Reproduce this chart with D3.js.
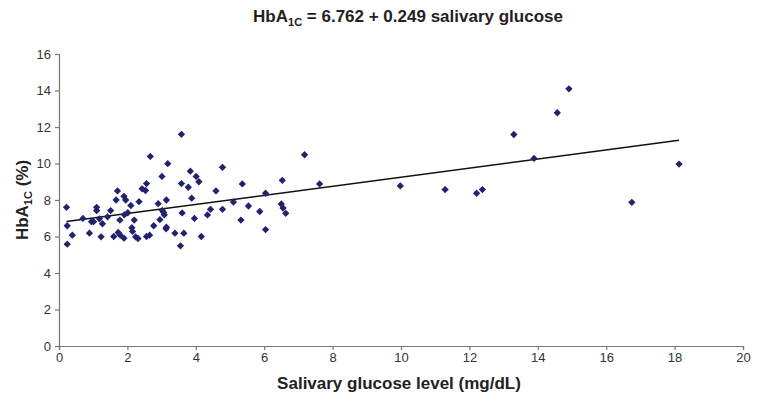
<!DOCTYPE html>
<html>
<head>
<meta charset="utf-8">
<script src="https://cdn.jsdelivr.net/npm/d3@7"></script>
<style>
  body { margin: 0; background: #fff; }
  svg { display: block; }
  text { font-family: "Liberation Sans Narrow", "Arial Narrow", "Liberation Sans", Arial, sans-serif; }
</style>
</head>
<body>
<div id="chart"></div>
<script>
// salivary glucose (mg/dL) vs HbA1c (%)
const glucose = [
  0.22, 0.24, 0.24, 0.39, 0.70, 0.89, 0.95, 1.01, 1.10, 1.10,
  1.18, 1.23, 1.27, 1.42, 1.51, 1.60, 1.67, 1.71, 1.73, 1.78,
  1.79, 1.90, 1.90, 1.95, 1.91, 2.01, 2.10, 2.13, 2.15, 2.20,
  2.24, 2.31, 2.34, 2.43, 2.53, 2.56, 2.56, 2.65, 2.67, 2.77,
  2.90, 2.95, 3.01, 3.02, 3.06, 3.08, 3.14, 3.13, 3.14, 3.18,
  3.39, 3.55, 3.58, 3.58, 3.60, 3.65, 3.78, 3.84, 3.88, 3.96,
  4.01, 4.09, 4.16, 4.34, 4.43, 4.59, 4.78, 4.78, 5.10, 5.32,
  7.18, 5.54, 6.53, 7.62, 6.04, 5.36, 6.50, 6.55, 6.63, 5.87,
  6.04, 9.98, 11.29, 12.21, 12.38, 13.30, 13.89, 14.57, 14.91, 16.75,
  18.13
];
const hba1c = [
  7.60, 6.59, 5.58, 6.07, 6.99, 6.18, 6.81, 6.81, 7.60, 7.42,
  6.97, 5.98, 6.70, 7.08, 7.42, 6.00, 8.00, 8.50, 6.22, 6.90,
  6.07, 8.20, 5.91, 8.00, 7.19, 7.30, 7.70, 6.48, 6.28, 6.90,
  5.98, 5.89, 7.91, 8.61, 8.52, 8.90, 6.00, 6.07, 10.39, 6.59,
  7.80, 6.92, 9.29, 7.43, 7.32, 7.19, 8.00, 6.42, 6.51, 9.99,
  6.18, 5.49, 11.60, 8.90, 7.29, 6.18, 8.70, 9.58, 8.10, 6.99,
  9.29, 9.00, 6.00, 7.18, 7.49, 8.50, 9.79, 7.49, 7.89, 6.90,
  10.48, 7.67, 9.08, 8.88, 8.37, 8.88, 7.78, 7.56, 7.27, 7.37,
  6.38, 8.77, 8.57, 8.37, 8.57, 11.59, 10.28, 12.78, 14.09, 7.87,
  9.97
];
const xTicks = [0, 2, 4, 6, 8, 10, 12, 14, 16, 18, 20];
const yTicks = [0, 2, 4, 6, 8, 10, 12, 14, 16];
const intercept = 6.762;
const slope = 0.249;

const W = 758, H = 403;
const margin = {top: 54, right: 15, bottom: 57, left: 59};

const svg = d3.select("#chart").append("svg")
  .attr("width", W)
  .attr("height", H);

const x = d3.scaleLinear().domain([0, 20]).range([margin.left, W - margin.right]);
const y = d3.scaleLinear().domain([0, 16]).range([H - margin.bottom, margin.top]);

// axes
const xAxis = svg.append("g")
  .attr("transform", `translate(0,${y(0)})`)
  .call(d3.axisBottom(x).tickValues(xTicks).tickSize(4).tickPadding(3).tickFormat(d3.format("d")));
const yAxis = svg.append("g")
  .attr("transform", `translate(${x(0)},0)`)
  .call(d3.axisLeft(y).tickValues(yTicks).tickSize(4).tickPadding(4).tickFormat(d3.format("d")));

[xAxis, yAxis].forEach(g => {
  g.select(".domain").attr("stroke", "#777").attr("stroke-width", 1.2);
  g.selectAll(".tick line").attr("stroke", "#777").attr("stroke-width", 1.2);
  g.selectAll(".tick text").attr("fill", "#333").style("font-size", "13px");
});

// regression line over the data range
const xr = d3.extent(glucose);
svg.append("line")
  .attr("x1", x(xr[0])).attr("y1", y(intercept + slope * xr[0]))
  .attr("x2", x(xr[1])).attr("y2", y(intercept + slope * xr[1]))
  .attr("stroke", "#111")
  .attr("stroke-width", 1.5);

// points (diamonds)
const diamond = d3.symbol().type(d3.symbolDiamond2).size(34);
svg.append("g").selectAll("path")
  .data(glucose.map((g, i) => [g, hba1c[i]]))
  .join("path")
  .attr("d", diamond)
  .attr("transform", d => `translate(${x(d[0])},${y(d[1])})`)
  .attr("fill", "#22226e");

// title
const title = svg.append("text")
  .attr("x", 408).attr("y", 22)
  .attr("text-anchor", "middle")
  .style("font-size", "17px").style("font-weight", "bold").attr("fill", "#222");
title.append("tspan").text("HbA");
title.append("tspan").text("1C").style("font-size", "11px").attr("dy", 4);
title.append("tspan").text(" = 6.762 + 0.249 salivary glucose").attr("dy", -4);

// x label
svg.append("text")
  .attr("x", 399).attr("y", 389)
  .attr("text-anchor", "middle")
  .style("font-size", "17px").style("font-weight", "bold").attr("fill", "#222")
  .text("Salivary glucose level (mg/dL)");

// y label
const yl = svg.append("text")
  .attr("transform", `translate(28,${y(8)}) rotate(-90)`)
  .attr("text-anchor", "middle")
  .style("font-size", "17px").style("font-weight", "bold").attr("fill", "#222");
yl.append("tspan").text("HbA");
yl.append("tspan").text("1C").style("font-size", "11px").attr("dy", 4);
yl.append("tspan").text(" (%)").attr("dy", -4);
</script>
</body>
</html>
